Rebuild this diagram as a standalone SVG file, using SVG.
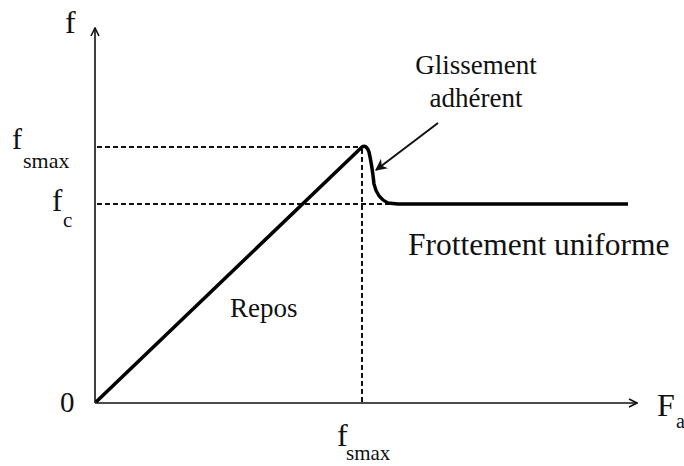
<svg xmlns="http://www.w3.org/2000/svg" width="684" height="466" viewBox="0 0 684 466">
<style>
.t{font-family:"Liberation Serif","DejaVu Serif",serif;fill:#111}
.axis{stroke:#111;stroke-width:1.6;fill:none}
.dash{stroke:#111;stroke-width:2;stroke-dasharray:5 3;fill:none}
.curve{stroke:#000;stroke-width:3.5;fill:none;stroke-linejoin:round}
</style>
<defs>
<marker id="chev" viewBox="0 0 10 10" refX="9" refY="5" markerWidth="10" markerHeight="10" markerUnits="userSpaceOnUse" orient="auto">
<path d="M1,1 L9,5 L1,9" fill="none" stroke="#111" stroke-width="1.6"/>
</marker>
<marker id="ah" viewBox="0 0 10 10" refX="9" refY="5" markerWidth="12" markerHeight="12" markerUnits="userSpaceOnUse" orient="auto">
<path d="M0,0 L10,5 L0,10 L3,5 Z" fill="#111"/>
</marker>
</defs>
<g id="connectors">
<line class="axis" x1="95" y1="403" x2="95" y2="28" marker-end="url(#chev)"/>
<line class="axis" x1="95" y1="403" x2="637" y2="403" marker-end="url(#chev)"/>
<line class="dash" x1="97" y1="147" x2="362" y2="147"/>
<line class="dash" x1="97" y1="204" x2="396" y2="204"/>
<line class="dash" x1="362" y1="149" x2="362" y2="402"/>
<path class="curve" d="M96,402 L362,147 Q366,144 369,152 Q372,165 374,184 Q377,198 388,203 L398,204 L628,204"/>
<line stroke="#111" stroke-width="2" x1="438" y1="123" x2="376" y2="170" marker-end="url(#ah)"/>
</g>
<g id="labels">
<text class="t" x="65" y="33" font-size="32">f</text>
<text class="t" x="12" y="149" font-size="30">f<tspan x="23" y="168" font-size="22">smax</tspan></text>
<text class="t" x="52" y="211" font-size="31">f<tspan x="63" y="227" font-size="21">c</tspan></text>
<text class="t" x="60" y="412" font-size="29">0</text>
<text class="t" x="657" y="416" font-size="32">F<tspan x="676" y="428" font-size="20">a</tspan></text>
<text class="t" x="337" y="446" font-size="32">f<tspan x="346" y="460" font-size="21">smax</tspan></text>
</g>
<g id="glissement"><text class="t" x="476" y="74" font-size="27" text-anchor="middle">Glissement</text>
<text class="t" x="476" y="107" font-size="27" text-anchor="middle">adhérent</text></g>
<g id="repos"><text class="t" x="230" y="317" font-size="27">Repos</text></g>
<g id="frottement"><text class="t" x="408" y="255" font-size="31.5">Frottement uniforme</text></g>
</svg>
